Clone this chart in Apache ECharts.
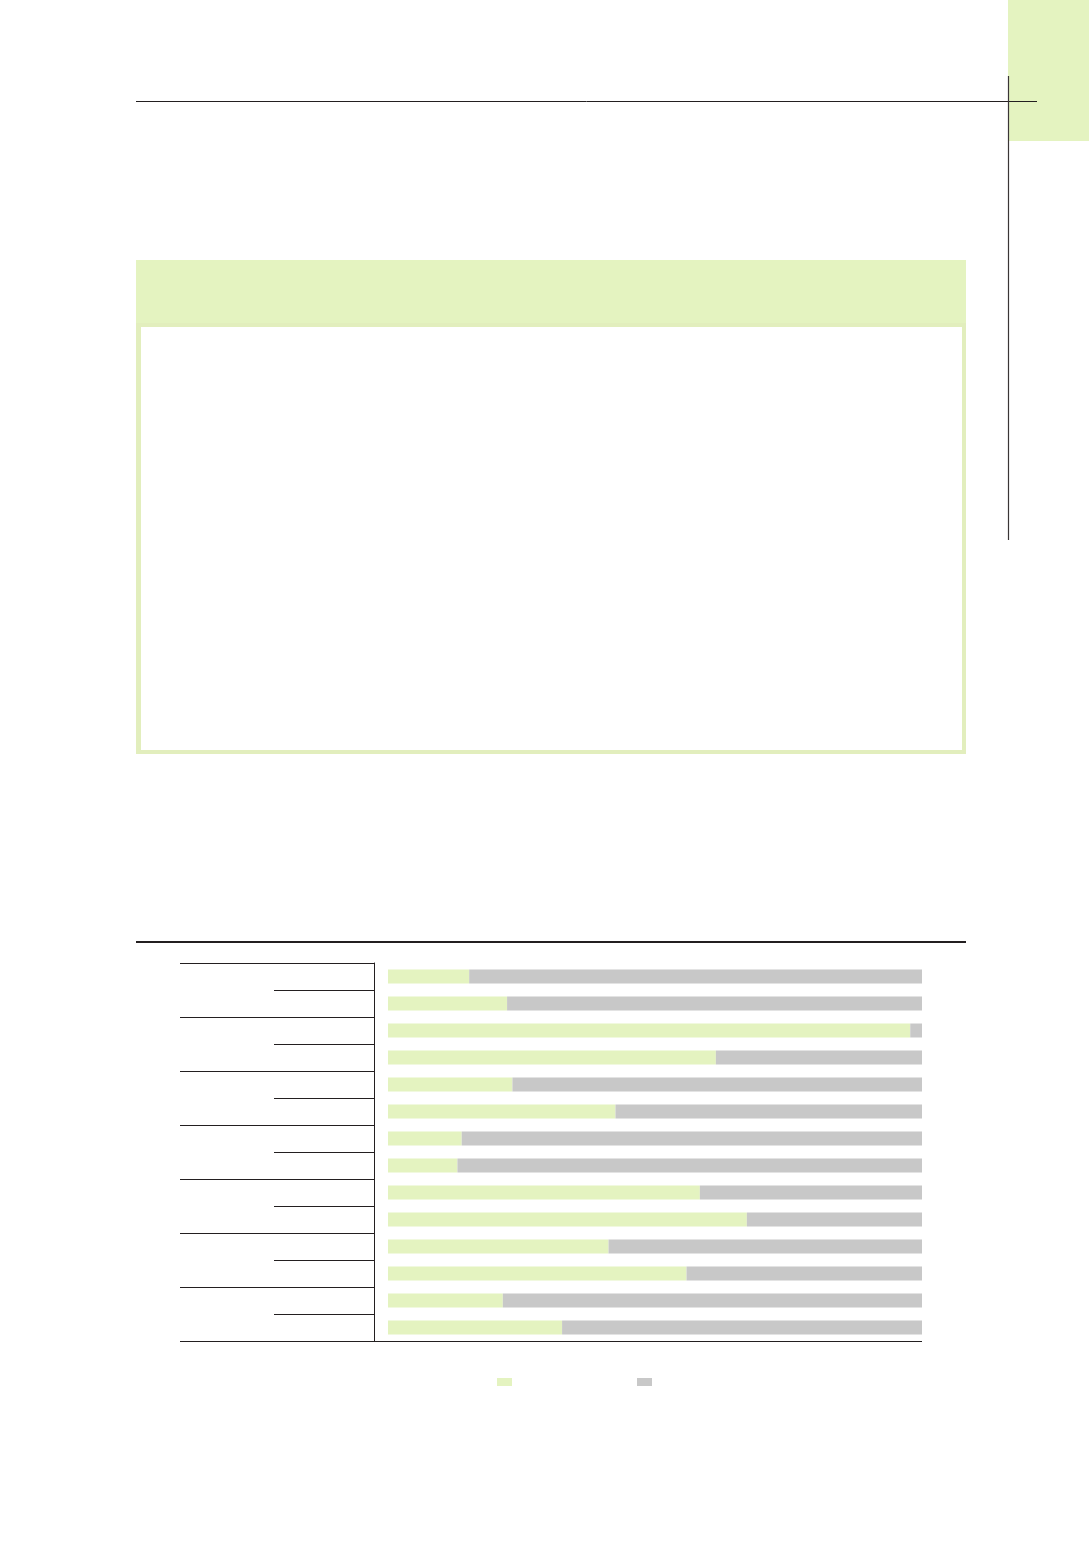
<!DOCTYPE html>
<html>
<head>
<meta charset="utf-8">
<script src="https://cdn.jsdelivr.net/npm/echarts@6/dist/echarts.min.js"></script>
<style>
  html, body { margin: 0; padding: 0; background: #fff; }
  #page { width: 1089px; height: 1546px; }
</style>
</head>
<body>
<div id="page"></div>
<script>
// rows top to bottom, seven pairs
var rowIds = ['r1', 'r2', 'r3', 'r4', 'r5', 'r6', 'r7', 'r8', 'r9', 'r10', 'r11', 'r12', 'r13', 'r14'];
// green share of each bar (%)
var shareValues = [15.2, 22.3, 97.8, 61.4, 23.3, 42.6, 13.8, 13.0, 58.4, 67.2, 41.3, 55.9, 21.5, 32.6];
// grey remainder of each bar (%)
var restValues = [84.8, 77.7, 2.2, 38.6, 76.7, 57.4, 86.2, 87.0, 41.6, 32.8, 58.7, 44.1, 78.5, 67.4];
var seriesNames = ['share', 'rest'];

var GREEN = '#e4f3c0';
var GREY = '#c8c8c8';
var INK = '#231f20';

var myChart = echarts.init(document.getElementById('page'));

var option = {
	animation: false,
	// grid 0 holds the bars, grid 1 the row/group rules
	grid: [
		{ left: 388, right: 167, top: 963, height: 378, containLabel: false },
		{ left: 374, right: 167, top: 963, height: 378, containLabel: false }
	],
	xAxis: [
		{ type: 'value', gridIndex: 0, min: 0, max: 100, show: false },
		{ type: 'value', gridIndex: 1, min: 0, max: 100, show: false }
	],
	yAxis: [{
		type: 'category',
		gridIndex: 0,
		data: rowIds,
		inverse: true,
		show: false
	}, {
		type: 'category',
		gridIndex: 1,
		position: 'left',
		data: rowIds,
		inverse: true,
		axisLine: { show: true, lineStyle: { color: INK, width: 1 } },
		axisTick: { show: true, length: 100, interval: 0, lineStyle: { color: INK, width: 1 } },
		axisLabel: { show: false },
		splitLine: { show: false }
	}, {
		// group lines (every second boundary)
		type: 'category',
		gridIndex: 1,
		position: 'left',
		data: rowIds,
		inverse: true,
		axisLine: { show: false },
		axisTick: {
			show: true, length: 194,
			interval: function (i) { return i % 2 === 0; },
			lineStyle: { color: INK, width: 1 }
		},
		axisLabel: { show: false },
		splitLine: { show: false }
	}],
	legend: {
		left: 492, top: 1373,
		itemWidth: 15, itemHeight: 8, itemGap: 125,
		icon: 'rect',
		formatter: function () { return ''; },
		data: seriesNames
	},
	series: [{
		name: seriesNames[0],
		type: 'bar',
		stack: 'total',
		barWidth: 14,
		xAxisIndex: 0,
		yAxisIndex: 0,
		itemStyle: { color: GREEN },
		data: shareValues
	}, {
		name: seriesNames[1],
		type: 'bar',
		stack: 'total',
		barWidth: 14,
		xAxisIndex: 0,
		yAxisIndex: 0,
		itemStyle: { color: GREY },
		data: restValues
	}],
	graphic: [
		// corner tab
		{ type: 'rect', shape: { x: 1008, y: 0, width: 81, height: 141 }, style: { fill: GREEN } },
		// header rules
		{ type: 'line', shape: { x1: 136, y1: 101.5, x2: 1037, y2: 101.5 }, style: { stroke: INK, lineWidth: 1 } },
		{ type: 'line', shape: { x1: 1008.5, y1: 76, x2: 1008.5, y2: 540 }, style: { stroke: '#3a3536', lineWidth: 1.2 } },
		// framed box
		{ type: 'rect', shape: { x: 136, y: 260, width: 830, height: 494 }, style: { fill: '#e2eebd' } },
		{ type: 'rect', shape: { x: 136, y: 260, width: 830, height: 63 }, style: { fill: GREEN } },
		{ type: 'rect', shape: { x: 141, y: 327, width: 821, height: 423 }, style: { fill: '#ffffff' } },
		// chart top rule
		{ type: 'line', shape: { x1: 136, y1: 942, x2: 966, y2: 942 }, style: { stroke: INK, lineWidth: 2 } },
		// chart bottom rule
		{ type: 'line', shape: { x1: 180, y1: 1341.5, x2: 922, y2: 1341.5 }, style: { stroke: INK, lineWidth: 1 } }
	]
};
myChart.setOption(option);
</script>
</body>
</html>
